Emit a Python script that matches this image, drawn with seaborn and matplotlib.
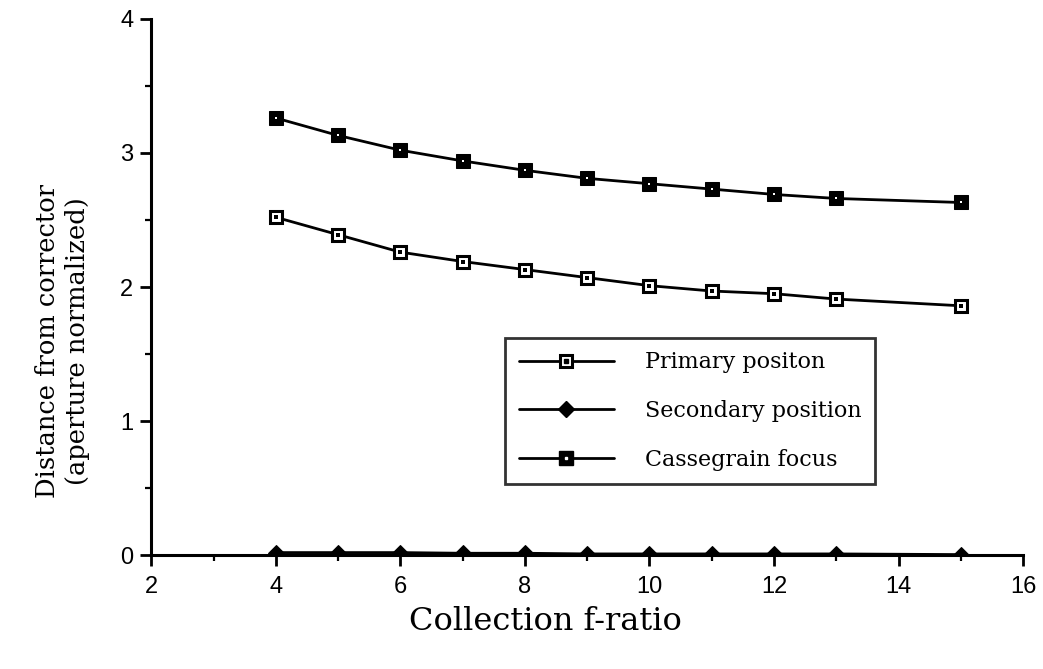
import matplotlib
matplotlib.use("Agg")
import matplotlib.pyplot as plt
import seaborn as sns
from matplotlib.lines import Line2D
from matplotlib.legend_handler import HandlerTuple
from matplotlib.ticker import MultipleLocator

# Valeurs
f_ratio = [4, 5, 6, 7, 8, 9, 10, 11, 12, 13, 15]
primaire = [2.52, 2.39, 2.26, 2.19, 2.13, 2.07, 2.01, 1.97, 1.95, 1.91, 1.86]
secondaire = [0.02, 0.02, 0.02, 0.015, 0.015, 0.01, 0.01, 0.01, 0.01, 0.01, 0.005]
cassegrain = [3.26, 3.13, 3.02, 2.94, 2.87, 2.81, 2.77, 2.73, 2.69, 2.66, 2.63]

noms = ["Primary positon", "Secondary position", "Cassegrain focus"]
x_ticks = [2, 4, 6, 8, 10, 12, 14, 16]
y_ticks = [0, 1, 2, 3, 4]

SERIF = "DejaVu Serif"
SANS = "Liberation Sans"


def tracer():
    sns.set_style("ticks", rc={"text.color": "black", "axes.labelcolor": "black",
                               "xtick.color": "black", "ytick.color": "black",
                               "axes.edgecolor": "black"})
    plt.rcParams["font.family"] = [SANS, "DejaVu Sans"]

    fig = plt.figure(figsize=(10.43, 6.69), dpi=100)
    ax = fig.add_axes([0.145, 0.170, 0.836, 0.802])

    lw = 2.0
    # Primary: carré blanc avec point central
    sns.lineplot(x=f_ratio, y=primaire, ax=ax, color="black", lw=lw,
                 marker="s", markersize=9, markerfacecolor="white",
                 markeredgecolor="black", markeredgewidth=2.2)
    sns.scatterplot(x=f_ratio, y=primaire, ax=ax, color="black", s=6,
                    marker="s", linewidth=0, zorder=5)
    # Secondary: losange plein
    sns.lineplot(x=f_ratio, y=secondaire, ax=ax, color="black", lw=lw,
                 marker="D", markersize=8, markerfacecolor="black",
                 markeredgecolor="black")
    # Cassegrain: carré noir
    sns.lineplot(x=f_ratio, y=cassegrain, ax=ax, color="black", lw=lw,
                 marker="s", markersize=10, markerfacecolor="black",
                 markeredgecolor="black")
    sns.scatterplot(x=f_ratio, y=cassegrain, ax=ax, color="white", s=3,
                    marker="s", linewidth=0, zorder=5)

    ax.set_xlim(2, 16)
    ax.set_ylim(0, 4)
    ax.set_xticks(x_ticks)
    ax.set_yticks(y_ticks)
    ax.xaxis.set_minor_locator(MultipleLocator(1))
    ax.yaxis.set_minor_locator(MultipleLocator(0.5))
    sns.despine(ax=ax)
    for s in ["left", "bottom"]:
        ax.spines[s].set_linewidth(2.2)
    ax.tick_params(axis="both", which="major", direction="out", length=8,
                   width=2, labelsize=17)
    ax.tick_params(axis="both", which="minor", direction="out", length=4,
                   width=1.6)
    ax.tick_params(axis="x", which="major", pad=7)
    ax.tick_params(axis="y", which="major", pad=5)

    ax.set_xlabel("Collection f-ratio", family=SERIF, fontsize=23)
    ax.xaxis.set_label_coords(0.452, -0.095)
    ax.set_ylabel("Distance from corrector\n(aperture normalized)",
                  family=SERIF, fontsize=18.5, linespacing=1.25)
    ax.yaxis.set_label_coords(-0.07, 0.40)

    # Légende
    p_sq = Line2D([], [], color="black", lw=lw, marker="s", markersize=9,
                  markerfacecolor="white", markeredgewidth=2.2)
    p_dot = Line2D([], [], ls="none", marker="s", markersize=2.5, color="black")
    s_h = Line2D([], [], color="black", lw=lw, marker="D", markersize=8)
    c_sq = Line2D([], [], color="black", lw=lw, marker="s", markersize=10)
    c_dot = Line2D([], [], ls="none", marker="s", markersize=1.8, color="white")
    leg = ax.legend([(p_sq, p_dot), s_h, (c_sq, c_dot)], noms,
                    handler_map={tuple: HandlerTuple(ndivide=1)},
                    loc="upper left", bbox_to_anchor=(0.406, 0.405),
                    prop={"family": SERIF, "size": 16}, frameon=True,
                    fancybox=False, edgecolor="black", handlelength=4.3,
                    handletextpad=1.4, labelspacing=1.2, borderpad=0.6,
                    borderaxespad=0)
    leg.get_frame().set_linewidth(2)

    fig.savefig("out.png", dpi=100, facecolor="white")


if __name__ == "__main__":
    tracer()
